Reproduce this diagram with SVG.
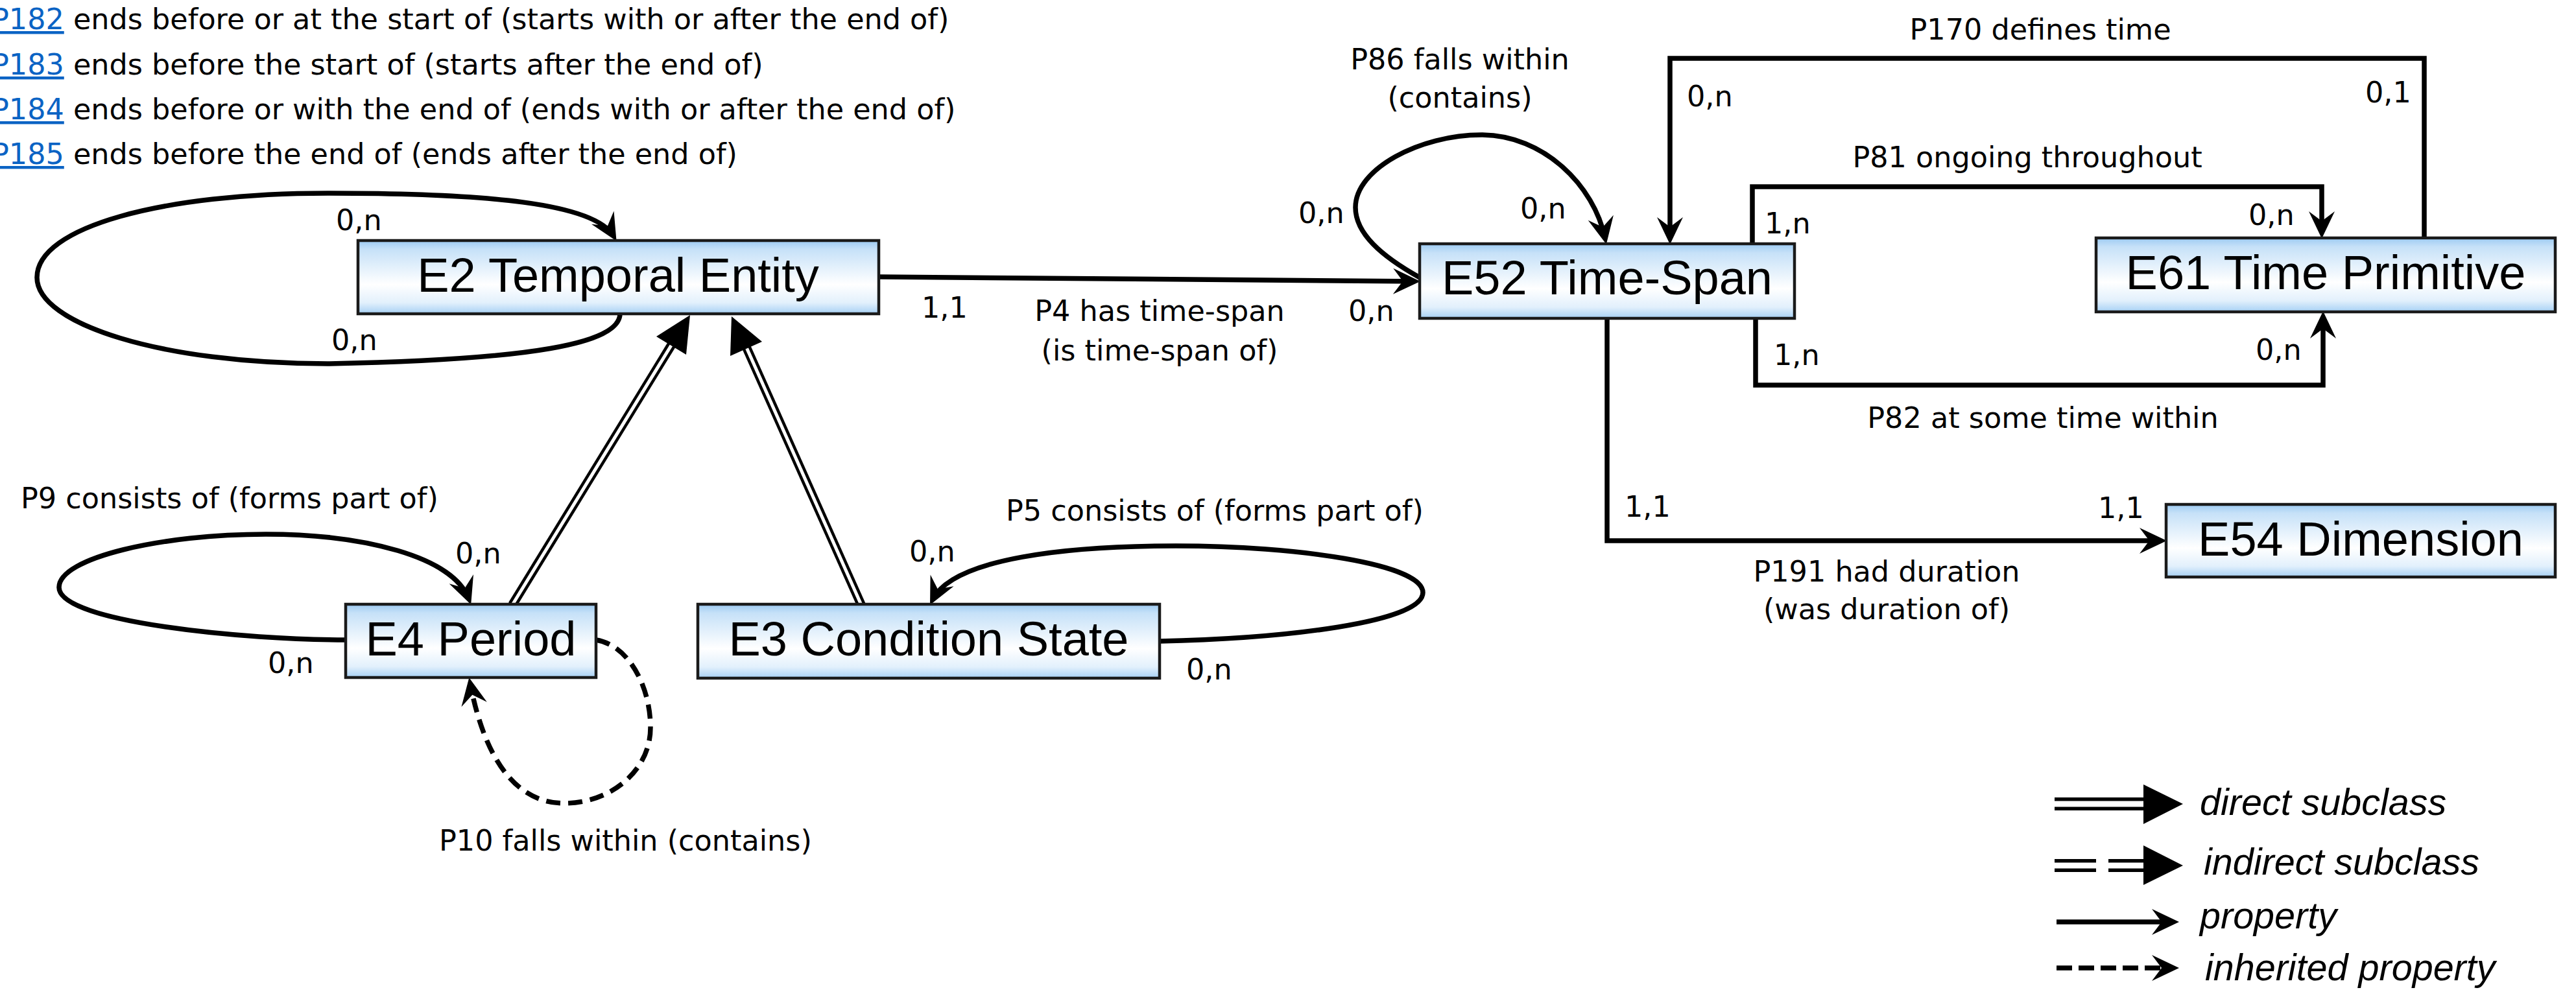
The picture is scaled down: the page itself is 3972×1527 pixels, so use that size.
<svg xmlns="http://www.w3.org/2000/svg" width="3972" height="1527" viewBox="0 0 3972 1527">
<defs>
<linearGradient id="nodeFill" x1="0" y1="0" x2="0" y2="1">
<stop offset="0" stop-color="#9ccaf2"/>
<stop offset="0.12" stop-color="#c6e1f8"/>
<stop offset="0.6" stop-color="#ffffff"/>
<stop offset="0.85" stop-color="#e2f0fc"/>
<stop offset="1" stop-color="#a6d0f4"/>
</linearGradient>
<marker id="arrow" markerUnits="userSpaceOnUse" markerWidth="60" markerHeight="60" refX="40" refY="22" orient="auto" overflow="visible">
<path d="M49,22 L7,2 L22,22 L7,42 Z" fill="#000"/>
</marker>
</defs>
<style>
.node rect{fill:url(#nodeFill);stroke:#1a1a1a;stroke-width:4.5}
.node text{font-family:"Liberation Sans",Arial,sans-serif;font-size:74px;text-anchor:middle;fill:#000}
.prop{fill:none;stroke:#000;stroke-width:7.5;stroke-linejoin:miter;marker-end:url(#arrow)}
.inh{stroke-dasharray:22 12}
.subo{stroke:#000;stroke-width:14;fill:none}
.subi{stroke:#fff;stroke-width:5;fill:none}
.head{fill:#000}
.lbl{font-family:"DejaVu Sans",Verdana,sans-serif;font-size:44.5px;fill:#000}
.mid{text-anchor:middle}
.link{fill:#0b63c4;text-decoration:underline}
.leg{font-family:"Liberation Sans",Arial,sans-serif;font-style:italic;font-size:57.5px;fill:#000}
</style>
<rect x="0" y="0" width="3972" height="1527" fill="#fff"/>

<g id="top-legend" class="lbl">
<text x="-13" y="45"><tspan class="link">P182</tspan> ends before or at the start of (starts with or after the end of)</text>
<text x="-13" y="115"><tspan class="link">P183</tspan> ends before the start of (starts after the end of)</text>
<text x="-13" y="184"><tspan class="link">P184</tspan> ends before or with the end of (ends with or after the end of)</text>
<text x="-13" y="253"><tspan class="link">P185</tspan> ends before the end of (ends after the end of)</text>
</g>

<g id="connectors">
<path class="prop" d="M956,484 C955,530 820,555 505,561 C250,561 57,500 57,428 C57,350 250,298 505,298 C750,298 916,313 946,364"/>
<path class="prop" d="M1355,427 L2181,434"/>
<path class="prop" d="M2189,428 C2130,395 2090,360 2090,320 C2090,260 2190,208 2284,208 C2380,208 2458,286 2475,368"/>
<path class="prop" d="M3738,367 L3738,90 L2575,90 L2575,368"/>
<path class="prop" d="M2702,376 L2702,288 L3580,288 L3580,359"/>
<path class="prop" d="M2707,491 L2707,594 L3582,594 L3582,489"/>
<path class="prop" d="M2478,491 L2478,834 L3332,834"/>
<path class="prop" d="M533,987 C380,987 91,960 91,906 C91,860 250,824 410,824 C560,824 698,858 723,924"/>
<path class="prop inh" d="M919,987 C970,995 1003,1060 1003,1122 C1003,1190 940,1239 870,1239 C790,1239 745,1160 725,1054"/>
<path class="prop" d="M1788,989 C1980,985 2194,960 2194,914 C2194,870 2000,842 1813,842 C1650,842 1470,860 1438,925"/>
<path class="subo" d="M790,933 L1036,531"/>
<path class="subi" d="M790,933 L1036,531"/>
<polygon class="head" points="1064,486 1058,547 1012,519"/>
<path class="subo" d="M1328,933 L1151,536"/>
<path class="subi" d="M1328,933 L1151,536"/>
<polygon class="head" points="1128,488 1175,527 1126,549"/>
</g>

<g id="connector-labels" class="lbl">
<text x="518" y="355">0,n</text>
<text x="511" y="540">0,n</text>
<text x="1421" y="490">1,1</text>
<text class="mid" x="1788" y="495">P4 has time-span</text>
<text class="mid" x="1788" y="556">(is time-span of)</text>
<text x="2079" y="495">0,n</text>
<text class="mid" x="2251" y="107">P86 falls within</text>
<text class="mid" x="2251" y="166">(contains)</text>
<text x="2002" y="344">0,n</text>
<text x="2344" y="337">0,n</text>
<text class="mid" x="3146" y="61">P170 defines time</text>
<text x="2601" y="164">0,n</text>
<text x="3647" y="158">0,1</text>
<text class="mid" x="3126" y="258">P81 ongoing throughout</text>
<text x="2721" y="360">1,n</text>
<text x="3467" y="347">0,n</text>
<text class="mid" x="3150" y="660">P82 at some time within</text>
<text x="2735" y="563">1,n</text>
<text x="3478" y="555">0,n</text>
<text class="mid" x="2909" y="897">P191 had duration</text>
<text class="mid" x="2909" y="955">(was duration of)</text>
<text x="2505" y="797">1,1</text>
<text x="3235" y="799">1,1</text>
<text x="32" y="784">P9 consists of (forms part of)</text>
<text x="702" y="869">0,n</text>
<text x="413" y="1038">0,n</text>
<text x="677" y="1312">P10 falls within (contains)</text>
<text x="1551" y="803">P5 consists of (forms part of)</text>
<text x="1402" y="866">0,n</text>
<text x="1829" y="1048">0,n</text>
</g>

<g id="E2" class="node"><rect x="552" y="371" width="803" height="113"/><text x="953" y="450">E2 Temporal Entity</text></g>
<g id="E4" class="node"><rect x="533" y="932" width="386" height="113"/><text x="726" y="1011">E4 Period</text></g>
<g id="E3" class="node"><rect x="1076" y="932" width="712" height="114"/><text x="1432" y="1011">E3 Condition State</text></g>
<g id="E52" class="node"><rect x="2189" y="376" width="578" height="115"/><text x="2478" y="454">E52 Time-Span</text></g>
<g id="E61" class="node"><rect x="3232" y="367" width="708" height="114"/><text x="3586" y="446">E61 Time Primitive</text></g>
<g id="E54" class="node"><rect x="3340" y="778" width="600" height="112"/><text x="3640" y="857">E54 Dimension</text></g>

<g id="key">
<path d="M3168,1240 L3307,1240" stroke="#000" stroke-width="20" fill="none"/>
<path d="M3166,1240 L3309,1240" stroke="#fff" stroke-width="9" fill="none"/>
<polygon class="head" points="3305,1210 3366,1240 3305,1271"/>
<text class="leg" x="3392" y="1257">direct subclass</text>
<path d="M3168,1335 L3232,1335 M3251,1335 L3307,1335" stroke="#000" stroke-width="20" fill="none"/>
<path d="M3166,1335 L3309,1335" stroke="#fff" stroke-width="9" fill="none"/>
<polygon class="head" points="3305,1304 3366,1335 3305,1365"/>
<text class="leg" x="3398" y="1349">indirect subclass</text>
<path class="prop" d="M3171,1422 L3351,1422"/>
<text class="leg" x="3392" y="1432">property</text>
<path class="prop" d="M3171,1493 L3351,1493" stroke-dasharray="24 10"/>
<text class="leg" x="3400" y="1512">inherited property</text>
</g>
</svg>
